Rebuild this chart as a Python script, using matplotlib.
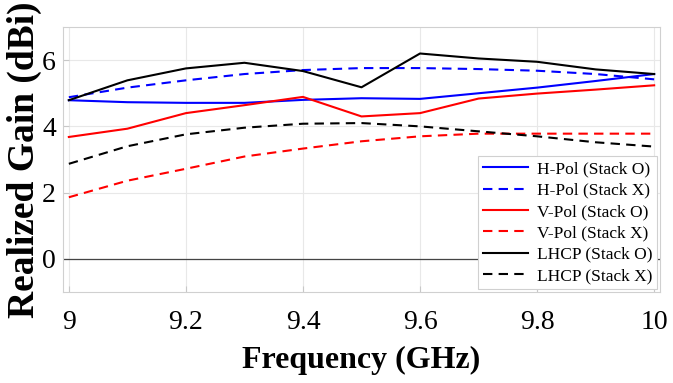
import numpy as np
import matplotlib
matplotlib.use('Agg')
import matplotlib.pyplot as plt

## data
freq = [9.0, 9.1, 9.2, 9.3, 9.4, 9.5, 9.6, 9.7, 9.8, 9.9, 10.0]
hpol_o = [4.79, 4.73, 4.71, 4.71, 4.80, 4.85, 4.83, 5.00, 5.17, 5.37, 5.58]
hpol_x = [4.88, 5.17, 5.39, 5.58, 5.70, 5.76, 5.76, 5.73, 5.68, 5.58, 5.42]
vpol_o = [3.68, 3.93, 4.40, 4.64, 4.89, 4.30, 4.40, 4.84, 4.99, 5.11, 5.24]
vpol_x = [1.86, 2.36, 2.72, 3.09, 3.33, 3.55, 3.70, 3.78, 3.78, 3.78, 3.78]
lhcp_o = [4.79, 5.39, 5.75, 5.92, 5.67, 5.18, 6.20, 6.05, 5.95, 5.72, 5.58]
lhcp_x = [2.87, 3.40, 3.76, 3.96, 4.08, 4.10, 4.00, 3.85, 3.70, 3.52, 3.39]
labels = ['H-Pol (Stack O)', 'H-Pol (Stack X)', 'V-Pol (Stack O)',
          'V-Pol (Stack X)', 'LHCP (Stack O)', 'LHCP (Stack X)']
xticks = [9, 9.2, 9.4, 9.6, 9.8, 10]
yticks = [0, 2, 4, 6]

plt.rcParams['font.family'] = ['Liberation Serif', 'DejaVu Serif']

fig = plt.figure(figsize=(6.73, 3.83), dpi=100)
ax = fig.add_axes([0.0936, 0.2376, 0.8871, 0.6919])

dash = (0, (4.5, 3))
ax.plot(freq, hpol_o, color='#0000ff', lw=1.5, label=labels[0])
ax.plot(freq, hpol_x, color='#0000ff', lw=1.5, ls=dash, label=labels[1])
ax.plot(freq, vpol_o, color='#ff0000', lw=1.5, label=labels[2])
ax.plot(freq, vpol_x, color='#ff0000', lw=1.5, ls=dash, label=labels[3])
ax.plot(freq, lhcp_o, color='black', lw=1.5, label=labels[4])
ax.plot(freq, lhcp_x, color='black', lw=1.5, ls=dash, label=labels[5])
ax.axhline(0, color='#444444', lw=0.9, zorder=2)

ax.set_xlim(8.99, 10.01)
ax.set_ylim(-1, 7)
ax.set_xticks(xticks)
ax.set_xticklabels(['9', '9.2', '9.4', '9.6', '9.8', '10'])
ax.set_yticks(yticks)
ax.tick_params(direction='in', labelsize=20, color='#c8c8c8', length=4)
ax.tick_params(axis='x', pad=13)
ax.tick_params(axis='y', pad=5)
ax.grid(True, color='#e8e8e8', lw=0.8)
for s in ax.spines.values():
    s.set_color('#d0d0d0')

ax.set_xlabel('Frequency (GHz)', fontsize=23, fontweight='bold', labelpad=8)
ax.set_ylabel('Realized Gain (dBi)', fontsize=27, fontweight='bold', labelpad=0)

leg = ax.legend(loc='lower right', fontsize=12.5, handlelength=2.6,
                labelspacing=0.3, borderpad=0.3, handletextpad=0.5,
                fancybox=False, framealpha=1, borderaxespad=0.15)
leg.get_frame().set_edgecolor('#d0d0d0')
leg.get_frame().set_linewidth(0.8)

fig.savefig('out.png', dpi=100)
